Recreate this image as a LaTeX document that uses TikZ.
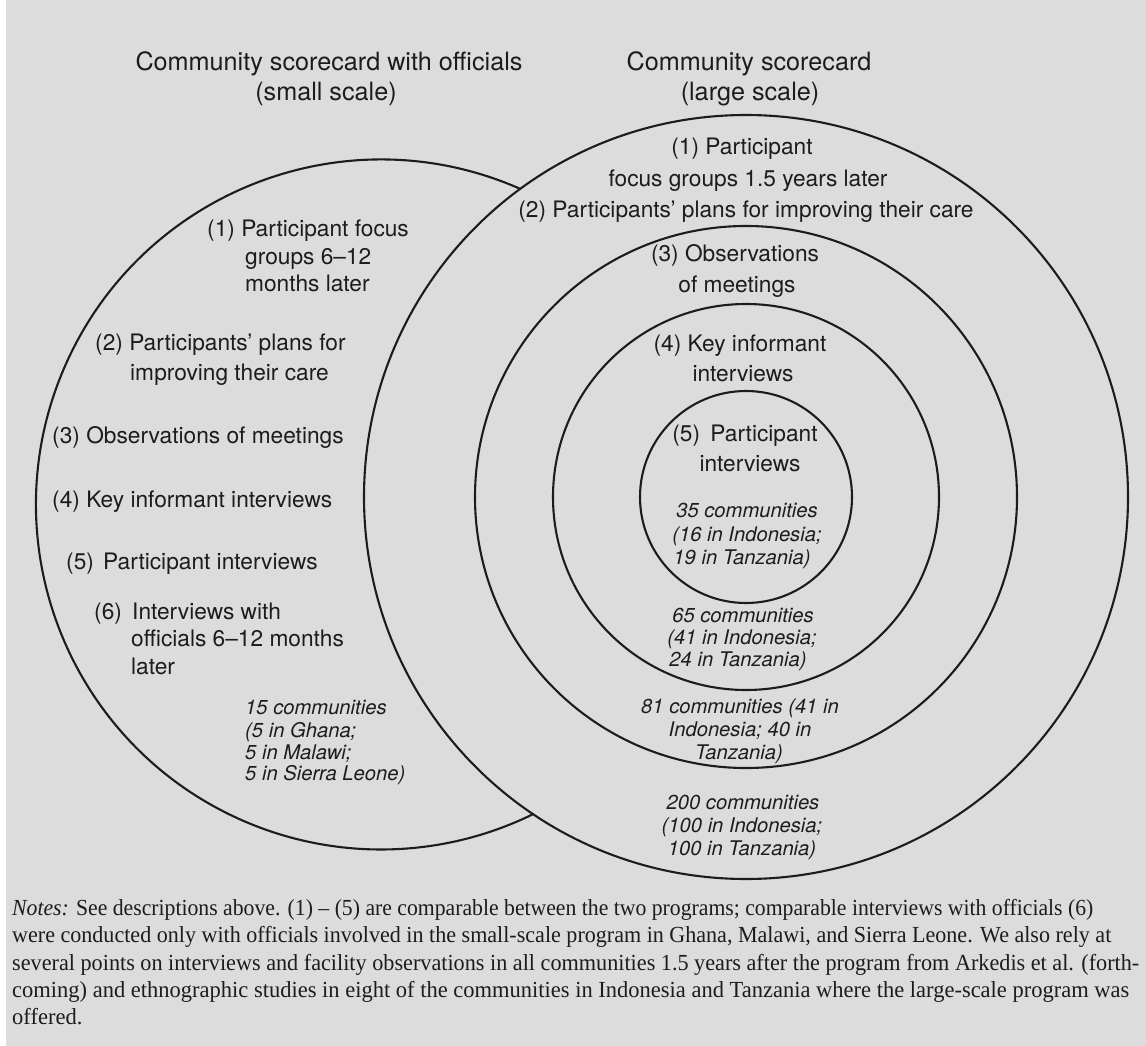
\documentclass[tikz,border=0pt]{standalone}
\usepackage{fontspec}
\setmainfont{TeX Gyre Heros}
\newfontfamily\notesfont{Liberation Serif}
\usepackage{graphicx}
\definecolor{bg}{RGB}{220,220,220}
\definecolor{ink}{RGB}{28,28,28}
\newlength\lineFourWd
\newcommand\lineFour{coming) and ethnographic studies in eight of the communities in Indonesia and Tanzania where the large-scale program was}
\begin{document}
\settowidth\lineFourWd{\notesfont\fontsize{23}{27}\selectfont\lineFour}%
\pgfmathsetmacro\noteScale{1117/\lineFourWd}%
\begin{tikzpicture}[x=1pt,y=-1pt,
  ring/.style={draw=ink, line width=2.1pt, circle, inner sep=0pt},
  body/.style={font=\fontsize{22.7}{27}\selectfont, text=ink, inner sep=0pt},
  bodyL/.style={body, anchor=base west},
  bodyC/.style={body, anchor=base},
  ttl/.style={font=\fontsize{25.2}{30}\selectfont, text=ink, inner sep=0pt, anchor=base},
  numL/.style={font=\fontsize{20.2}{23}\selectfont\itshape, text=ink, inner sep=0pt, anchor=base west},
  numC/.style={font=\fontsize{20.2}{23}\selectfont\itshape, text=ink, inner sep=0pt, anchor=base},
  note/.style={font=\notesfont\fontsize{23}{27}\selectfont, text=ink, inner sep=0pt, anchor=base west}]
\useasboundingbox (0,0) rectangle (1146,1046);
\fill[white] (0,0) rectangle (1146,1046);
\fill[bg] (6,0) rectangle (1146,1046);

% concentric rings (large scale)
\node[ring, minimum size=764pt] (outer) at (746,497) {};
\node[ring, minimum size=542pt] (ringB) at (746,497) {};
\node[ring, minimum size=386pt] (ringC) at (746,497) {};
\node[ring, minimum size=212pt] (inner) at (746,497) {};

% small-scale circle, visible only outside the large one
\coordinate (L) at (381,504.5);
\draw[draw=ink, line width=2.1pt] (L) ++(66.2:345pt) arc[start angle=66.2, end angle=296.2, radius=345pt];

% titles
\node[ttl] (t1) at (329,71) {Community scorecard with officials};
\node[ttl] (t2) at (326,101) {(small scale)};
\node[ttl] (t3) at (749,71) {Community scorecard};
\node[ttl] (t4) at (750,101) {(large scale)};

% left items
\node[bodyL] (l1a) at (207,236) {(1) Participant focus};
\node[bodyL] (l1b) at (245,264) {groups 6–12};
\node[bodyL] (l1c) at (245,291) {months later};
\node[bodyL] (l2a) at (95,350) {(2) Participants’ plans for};
\node[bodyL] (l2b) at (130,380) {improving their care};
\node[bodyL] (l3) at (52,443) {(3) Observations of meetings};
\node[bodyL] (l4) at (52,507) {(4) Key informant interviews};
\node[bodyL] (l5n) at (66,569) {(5)};
\node[bodyL] (l5) at (103,569) {Participant interviews};
\node[bodyL] (l6n) at (94,619) {(6)};
\node[bodyL] (l6a) at (132,619) {Interviews with};
\node[bodyL] (l6b) at (131,646) {officials 6–12 months};
\node[bodyL] (l6c) at (131,674) {later};
\node[numL] (s1) at (245,714) {15 communities};
\node[numL] (s2) at (245,737) {(5 in Ghana;};
\node[numL] (s3) at (245,759) {5 in Malawi;};
\node[numL] (s4) at (245,780) {5 in Sierra Leone)};

% right items
\node[bodyC] (r1a) at (742,155) {(1) Participant};
\node[bodyC] (r1b) at (748,186) {focus groups 1.5 years later};
\node[bodyC] (r2) at (746,217) {(2) Participants’ plans for improving their care};
\node[bodyC] (r3a) at (735,261) {(3) Observations};
\node[bodyC] (r3b) at (737,292) {of meetings};
\node[bodyC] (r4a) at (740,351) {(4) Key informant};
\node[bodyC] (r4b) at (743,381) {interviews};
\node[bodyC] (r5a) at (745,441) {(5)\hspace{4pt} Participant};
\node[bodyC] (r5b) at (750,471) {interviews};
\node[numC] (c1a) at (747,517) {35 communities};
\node[numC] (c1b) at (747,541) {(16 in Indonesia;};
\node[numC] (c1c) at (742,564) {19 in Tanzania)};
\node[numC] (c2a) at (743,622) {65 communities};
\node[numC] (c2b) at (742,644) {(41 in Indonesia;};
\node[numC] (c2c) at (738,666) {24 in Tanzania)};
\node[numC] (c3a) at (740,713) {81 communities (41 in};
\node[numC] (c3b) at (740,736) {Indonesia; 40 in};
\node[numC] (c3c) at (739,759) {Tanzania)};
\node[numC] (c4a) at (743,809) {200 communities};
\node[numC] (c4b) at (742,832) {(100 in Indonesia;};
\node[numC] (c4c) at (742,855) {100 in Tanzania)};

% notes
\node[note] (n1) at (12,915) {\resizebox{1081pt}{\height}{\textit{Notes:} See descriptions above. (1) – (5) are comparable between the two programs; comparable interviews with officials (6)}};
\node[note] (n2) at (12,942) {\resizebox{1099pt}{\height}{were conducted only with officials involved in the small-scale program in Ghana, Malawi, and Sierra Leone. We also rely at}};
\node[note] (n3) at (12,970) {\resizebox{1127pt}{\height}{several points on interviews and facility observations in all communities 1.5 years after the program from Arkedis et al. (forth-}};
\node[note] (n4) at (12,997) {\resizebox{1117pt}{\height}{\lineFour}};
\node[note] (n5) at (12,1024) {\scalebox{\noteScale}[1]{offered.}};
\end{tikzpicture}
\end{document}
